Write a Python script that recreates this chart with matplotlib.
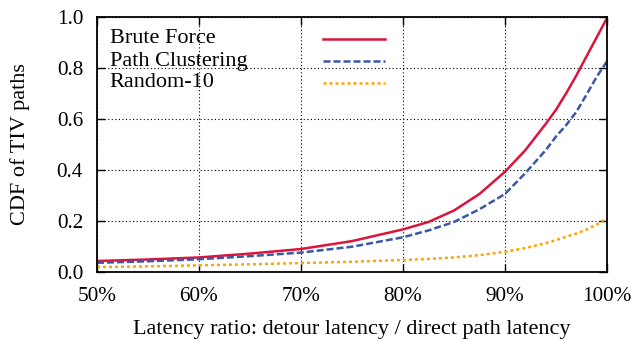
import matplotlib
matplotlib.use('Agg')
import matplotlib.pyplot as plt
from matplotlib.ticker import FuncFormatter

# latency ratio (%) and CDF values
ratio = [50, 55, 60, 65, 70, 75, 80, 82.5, 85, 87.5, 90, 92, 94, 95, 96, 97, 98, 99, 100]
brute_force = [0.042, 0.048, 0.056, 0.071, 0.089, 0.120, 0.166, 0.195, 0.240, 0.305,
               0.392, 0.477, 0.580, 0.635, 0.700, 0.770, 0.845, 0.920, 0.995]
path_clustering = [0.035, 0.041, 0.049, 0.061, 0.075, 0.098, 0.135, 0.162, 0.195, 0.245,
                   0.305, 0.387, 0.477, 0.530, 0.575, 0.627, 0.695, 0.765, 0.825]
random_10 = [0.018, 0.021, 0.025, 0.029, 0.034, 0.039, 0.046, 0.050, 0.056, 0.065,
             0.078, 0.093, 0.112, 0.124, 0.137, 0.150, 0.165, 0.185, 0.210]

labels = ['Brute Force', 'Path Clustering', 'Random-10']
colors = ['#DC143C', '#3A57A8', '#FFA500']

plt.rcParams['font.family'] = ['Liberation Serif', 'DejaVu Serif']
plt.rcParams['font.size'] = 16

fig = plt.figure(figsize=(6.34, 3.39), dpi=100)
ax = fig.add_axes([0.153, 0.1985, 0.8044, 0.7522])

series = [brute_force, path_clustering, random_10]
styles = [dict(ls='-'), dict(dashes=(2.8, 1.2)), dict(dashes=(1.2, 1.2))]
for ys, c, st in zip(series, colors, styles):
    ax.plot(ratio, ys, color=c, lw=1.8, **st)

ax.set_xlim(50, 100)
ax.set_ylim(0, 1)
ax.set_xticks(range(50, 101, 10))
ax.set_yticks([0, 0.2, 0.4, 0.6, 0.8, 1.0])
ax.xaxis.set_major_formatter(FuncFormatter(lambda v, p: f'{v:.0f}%'))
ax.yaxis.set_major_formatter(FuncFormatter(lambda v, p: f'{v:.1f}'))
ax.tick_params(direction='in', length=6, width=1, top=True, right=True, labelsize=15.3)
ax.tick_params(axis='x', pad=11)
ax.tick_params(axis='y', pad=10)
for s in ax.spines.values():
    s.set_linewidth(1.3)
ax.grid(True, color='black', lw=0.8, dashes=(1, 2.2))

ax.set_xlabel('Latency ratio: detour latency / direct path latency', labelpad=10)
ax.set_ylabel('CDF of TIV paths', labelpad=19)

# gnuplot-style key: text on the left, sample on the right
rows = [0.913, 0.825, 0.741]
for lab, c, st, yy in zip(labels, colors, styles, rows):
    ax.text(0.025, yy, lab, transform=ax.transAxes, ha='left', va='center')
    ax.plot([0.443, 0.564], [yy, yy], transform=ax.transAxes, color=c, lw=1.8, **st)

fig.savefig('out.png', dpi=100)
